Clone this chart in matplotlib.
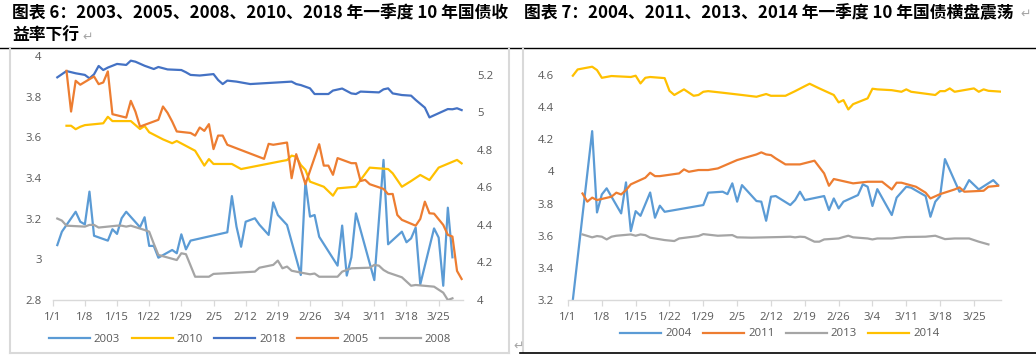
import matplotlib.pyplot as plt
from matplotlib.lines import Line2D

# days counted from 1/1 (leap-year calendar, as on the chart axis)
tick_days = [0, 7, 14, 21, 28, 35, 42, 49, 56, 63, 70, 77, 84]
tick_labels = ['1/1', '1/8', '1/15', '1/22', '1/29', '2/5', '2/12',
               '2/19', '2/26', '3/4', '3/11', '3/18', '3/25']

# ---- chart 6 (left axis: 2003, 2010, 2018; right axis: 2005, 2008)
d2003 = [1, 2, 5, 6, 7, 8, 9, 12, 13, 14, 15, 16, 19, 20, 21, 22, 23, 26, 27, 28, 29, 30,
         38, 39, 40, 41, 42, 44, 45, 47, 48, 49, 51, 54, 55, 56, 57, 58, 62, 63, 64, 65, 66,
         70, 72, 73, 76, 77, 78, 79, 80, 83, 84, 85, 86, 87]
y2003 = [3.07, 3.136, 3.234, 3.185, 3.172, 3.333, 3.116, 3.092, 3.148, 3.125, 3.202, 3.234,
         3.158, 3.207, 3.066, 3.066, 3.008, 3.046, 3.03, 3.123, 3.049, 3.092,
         3.133, 3.311, 3.161, 3.062, 3.185, 3.202, 3.17, 3.12, 3.28, 3.218, 3.169, 2.923,
         3.382, 3.21, 3.218, 3.111, 2.969, 3.166, 2.92, 3.01, 3.226, 2.898, 3.489, 3.074,
         3.136, 3.084, 3.103, 3.156, 2.877, 3.152, 3.107, 2.87, 3.254, 3.01]

d2010 = [3, 4, 5, 6, 7, 11, 12, 13, 17, 19, 20, 21, 24, 26, 27, 31, 33, 34, 35, 39, 41,
         50, 51, 52, 53, 54, 55, 56, 59, 61, 62, 66, 67, 69, 73, 74, 76, 78, 80, 82, 84, 88, 89]
y2010 = [3.657, 3.657, 3.64, 3.652, 3.66, 3.669, 3.701, 3.68, 3.68, 3.641, 3.656, 3.625,
         3.59, 3.571, 3.582, 3.534, 3.461, 3.493, 3.469, 3.469, 3.444,
         3.484, 3.488, 3.51, 3.505, 3.464, 3.44, 3.382, 3.357, 3.313, 3.349, 3.357, 3.39,
         3.451, 3.444, 3.423, 3.357, 3.385, 3.415, 3.39, 3.451, 3.489, 3.472]

d2018 = [1, 3, 5, 7, 8, 9, 10, 11, 12, 14, 16, 17, 18, 20, 22, 23, 25, 28, 29, 30, 32, 35,
         36, 37, 38, 40, 43, 52, 53, 54, 56, 57, 60, 61, 63, 65, 66, 67, 71, 72, 73, 74, 76,
         78, 79, 81, 82, 86, 87, 88, 89]
y2018 = [3.895, 3.926, 3.915, 3.907, 3.89, 3.91, 3.951, 3.931, 3.943, 3.961, 3.956, 3.977,
         3.972, 3.952, 3.936, 3.946, 3.934, 3.931, 3.92, 3.907, 3.904, 3.911, 3.882, 3.862,
         3.879, 3.874, 3.862, 3.874, 3.862, 3.857, 3.841, 3.813, 3.813, 3.83, 3.84, 3.816,
         3.813, 3.825, 3.821, 3.836, 3.841, 3.816, 3.808, 3.805, 3.784, 3.746, 3.698, 3.739,
         3.738, 3.743, 3.734]

d2005 = [3, 4, 5, 6, 9, 10, 11, 12, 13, 16, 17, 18, 19, 23, 24, 25, 26, 27, 30, 31, 32, 33,
         34, 35, 36, 37, 38, 46, 47, 48, 51, 52, 53, 55, 58, 59, 60, 61, 62, 65, 66, 67, 68,
         69, 72, 73, 74, 75, 76, 79, 80, 81, 82, 83, 85, 86, 87, 88, 89]
y2005 = [5.221, 5.004, 5.168, 5.147, 5.191, 5.15, 5.159, 5.218, 4.99, 4.972, 5.061, 5.004,
         4.924, 4.96, 5.031, 4.997, 4.951, 4.898, 4.89, 4.876, 4.919, 4.901, 4.937, 4.804,
         4.876, 4.876, 4.827, 4.752, 4.832, 4.827, 4.839, 4.649, 4.777, 4.617, 4.83, 4.716,
         4.716, 4.667, 4.756, 4.729, 4.729, 4.634, 4.64, 4.617, 4.592, 4.564, 4.565, 4.453,
         4.427, 4.396, 4.432, 4.524, 4.462, 4.46, 4.4, 4.347, 4.338, 4.155, 4.112]

d2008 = [1, 2, 3, 7, 8, 9, 10, 14, 15, 16, 17, 20, 21, 22, 23, 27, 28, 29, 31, 34, 35, 44,
         45, 48, 49, 50, 51, 52, 54, 56, 57, 58, 62, 63, 65, 69, 70, 71, 72, 73, 76, 78, 79,
         83, 85, 86, 87]
y2008 = [4.434, 4.423, 4.396, 4.391, 4.4, 4.4, 4.386, 4.396, 4.396, 4.391, 4.396, 4.373,
         4.364, 4.30, 4.24, 4.213, 4.249, 4.244, 4.124, 4.124, 4.139, 4.151, 4.172, 4.187,
         4.21, 4.169, 4.178, 4.156, 4.146, 4.137, 4.141, 4.124, 4.124, 4.151, 4.169, 4.172,
         4.187, 4.183, 4.16, 4.146, 4.121, 4.076, 4.08, 4.071, 4.039, 4.0, 4.009]

# ---- chart 7
d2004 = [1, 5, 6, 7, 8, 11, 12, 13, 14, 15, 17, 18, 19, 20, 28, 29, 32, 33, 34, 35, 36, 39,
         40, 41, 42, 43, 46, 47, 48, 49, 53, 54, 55, 56, 57, 60, 61, 62, 63, 64, 67, 68, 70,
         71, 74, 75, 76, 77, 78, 81, 82, 83, 85, 88, 89]
y2004 = [3.2, 4.251, 3.745, 3.857, 3.895, 3.739, 3.932, 3.629, 3.753, 3.724, 3.869, 3.712,
         3.787, 3.749, 3.791, 3.868, 3.874, 3.859, 3.926, 3.812, 3.915, 3.816, 3.812, 3.693,
         3.843, 3.847, 3.791, 3.822, 3.874, 3.822, 3.847, 3.76, 3.832, 3.77, 3.812, 3.853,
         3.92, 3.905, 3.785, 3.89, 3.729, 3.837, 3.905, 3.899, 3.847, 3.718, 3.812, 3.847,
         4.077, 3.874, 3.89, 3.946, 3.888, 3.946, 3.915]

d2011 = [3, 4, 5, 6, 9, 10, 11, 12, 13, 16, 17, 18, 19, 23, 24, 25, 27, 29, 31, 35, 39, 40,
         41, 42, 43, 45, 48, 51, 53, 54, 55, 59, 62, 65, 67, 68, 69, 72, 74, 75, 77, 80, 81,
         82, 86, 87, 89]
y2011 = [3.863, 3.812, 3.837, 3.822, 3.843, 3.868, 3.857, 3.884, 3.92, 3.961, 3.992, 3.971,
         3.971, 3.988, 4.013, 3.998, 4.009, 4.009, 4.019, 4.071, 4.106, 4.119, 4.106, 4.102,
         4.081, 4.044, 4.044, 4.067, 3.988, 3.911, 3.953, 3.926, 3.936, 3.936, 3.888, 3.93,
         3.93, 3.905, 3.868, 3.832, 3.859, 3.888, 3.901, 3.874, 3.88, 3.905, 3.911]

d2013 = [3, 5, 6, 7, 8, 9, 10, 13, 14, 15, 16, 17, 20, 22, 23, 27, 28, 31, 34, 35, 38, 44,
         46, 47, 48, 49, 51, 52, 53, 56, 57, 58, 59, 62, 63, 64, 67, 69, 70, 74, 76, 78, 80,
         83, 85, 87]
y2013 = [3.608, 3.59, 3.598, 3.594, 3.577, 3.594, 3.6, 3.608, 3.6, 3.608, 3.604, 3.588,
         3.573, 3.567, 3.583, 3.598, 3.61, 3.6, 3.604, 3.59, 3.588, 3.592, 3.594, 3.59, 3.594,
         3.592, 3.563, 3.563, 3.577, 3.583, 3.592, 3.6, 3.59, 3.583, 3.577, 3.583, 3.583,
         3.59, 3.592, 3.594, 3.6, 3.579, 3.583, 3.583, 3.563, 3.546]

d2014 = [1, 2, 5, 6, 7, 9, 13, 14, 15, 16, 17, 20, 21, 22, 24, 26, 27, 28, 29, 32, 36, 39,
         41, 42, 45, 47, 49, 50, 52, 55, 56, 57, 58, 59, 62, 63, 64, 67, 69, 70, 71, 76, 77,
         78, 79, 80, 84, 85, 86, 87, 90]
y2014 = [4.596, 4.635, 4.652, 4.631, 4.583, 4.594, 4.588, 4.596, 4.548, 4.583, 4.588, 4.581,
         4.502, 4.476, 4.511, 4.471, 4.476, 4.496, 4.5, 4.49, 4.476, 4.465, 4.482, 4.471,
         4.471, 4.5, 4.531, 4.546, 4.517, 4.476, 4.43, 4.444, 4.386, 4.419, 4.455, 4.515,
         4.511, 4.506, 4.496, 4.511, 4.496, 4.476, 4.5, 4.5, 4.517, 4.496, 4.517, 4.496,
         4.511, 4.502, 4.496]

C_BLUE = '#5B9BD5'
C_ORANGE = '#ED7D31'
C_GRAY = '#A5A5A5'
C_YELLOW = '#FFC000'
C_DARK = '#4472C4'
TXT = '#595959'
LINE = '#D9D9D9'

W, H = 1036, 355
plt.rcParams['font.family'] = ['Open Sans', 'DejaVu Sans']
cjk = ['Noto Sans CJK SC', 'DejaVu Sans']

fig = plt.figure(figsize=(W / 100, H / 100), dpi=100)


def box(x0, y0, x1, y1):
    return [x0 / W, 1 - y1 / H, (x1 - x0) / W, (y1 - y0) / H]


def hline(x0, x1, y, color, lw):
    fig.add_artist(Line2D([x0 / W, x1 / W], [1 - y / H, 1 - y / H], transform=fig.transFigure,
                          color=color, lw=lw))


def vline(x, y0, y1, color, lw):
    fig.add_artist(Line2D([x / W, x / W], [1 - y0 / H, 1 - y1 / H], transform=fig.transFigure,
                          color=color, lw=lw))


def fmt(v):
    return ('%.1f' % v).rstrip('0').rstrip('.')


def style(ax, yticks, side_pad=8):
    for s in ['top', 'left', 'right']:
        ax.spines[s].set_visible(False)
    ax.spines['bottom'].set_color(LINE)
    ax.spines['bottom'].set_linewidth(1.0)
    ax.set_xticks(tick_days)
    ax.set_xticklabels(tick_labels)
    ax.tick_params(axis='x', length=4, width=0.9, color=LINE, labelcolor=TXT, labelsize=8.2, pad=5)
    ax.set_yticks(yticks)
    ax.set_yticklabels([fmt(v) for v in yticks])
    ax.tick_params(axis='y', length=0, labelcolor=TXT, labelsize=8.2, pad=side_pad)
    ax.patch.set_visible(False)


# ---- left chart
ax1 = fig.add_axes(box(52.7, 56, 463, 300))
ax1r = ax1.twinx()
lw = 1.6
h1, = ax1.plot(d2003, y2003, color=C_BLUE, lw=lw, label='2003')
h2, = ax1.plot(d2010, y2010, color=C_YELLOW, lw=lw, label='2010')
h3, = ax1.plot(d2018, y2018, color=C_DARK, lw=lw, label='2018')
h4, = ax1r.plot(d2005, y2005, color=C_ORANGE, lw=lw, label='2005')
h5, = ax1r.plot(d2008, y2008, color=C_GRAY, lw=lw, label='2008')
ax1.set_xlim(0, 89.3)
ax1.set_ylim(2.8, 4.0)
ax1r.set_ylim(4.0, 5.3)
style(ax1, [2.8, 3.0, 3.2, 3.4, 3.6, 3.8, 4.0])
style(ax1r, [4.0, 4.2, 4.4, 4.6, 4.8, 5.0, 5.2], side_pad=10)
ax1r.spines['bottom'].set_visible(False)
ax1r.tick_params(axis='x', length=0)
fig.legend([h1, h2, h3, h4, h5], ['2003', '2010', '2018', '2005', '2008'],
           loc='center', bbox_to_anchor=(250 / W, 1 - 339 / H), ncol=5, frameon=False,
           handlelength=3.6, columnspacing=1.0, handletextpad=0.35, fontsize=8.2,
           labelcolor=TXT)

# ---- right chart
ax2 = fig.add_axes(box(568, 59, 1001, 300))
g1, = ax2.plot(d2004, y2004, color=C_BLUE, lw=lw)
g2, = ax2.plot(d2011, y2011, color=C_ORANGE, lw=lw)
g3, = ax2.plot(d2013, y2013, color=C_GRAY, lw=lw)
g4, = ax2.plot(d2014, y2014, color=C_YELLOW, lw=lw)
ax2.set_xlim(0, 89.6)
ax2.set_ylim(3.2, 4.7)
style(ax2, [3.2, 3.4, 3.6, 3.8, 4.0, 4.2, 4.4, 4.6], side_pad=10)
fig.legend([g1, g2, g3, g4], ['2004', '2011', '2013', '2014'],
           loc='center', bbox_to_anchor=(780 / W, 1 - 334 / H), ncol=4, frameon=False,
           handlelength=3.6, columnspacing=1.0, handletextpad=0.35, fontsize=8.2,
           labelcolor=TXT)

# ---- titles and page lines
tsize = 12.1
fig.text(12 / W, 1 - 13 / H, '图表 6：2003、2005、2008、2010、2018 年一季度 10 年国债收',
         family=cjk, fontsize=tsize, fontweight='bold', va='center', ha='left')
fig.text(12 / W, 1 - 36 / H, '益率下行', family=cjk, fontsize=tsize, fontweight='bold',
         va='center', ha='left')
fig.text(82 / W, 1 - 37 / H, '↵', family=cjk, fontsize=9, color='#A6A6A6', va='center')
fig.text(524 / W, 1 - 13 / H, '图表 7：2004、2011、2013、2014 年一季度 10 年国债横盘震荡',
         family=cjk, fontsize=tsize, fontweight='bold', va='center', ha='left')
fig.text(1020 / W, 1 - 14 / H, '↵', family=cjk, fontsize=9, color='#A6A6A6', va='center')
fig.text(513 / W, 1 - 346 / H, '↵', family=cjk, fontsize=9, color='#A6A6A6', va='center')

hline(0, W, 48, 'black', 1.0)
vline(10, 49, 353, LINE, 1.5)
vline(509, 49, 353, LINE, 1.5)
hline(10, 509, 353, LINE, 1.5)
vline(523, 49, 352, LINE, 1.5)
hline(520, W, 352.5, 'black', 1.2)

fig.savefig('out.png', dpi=100)
